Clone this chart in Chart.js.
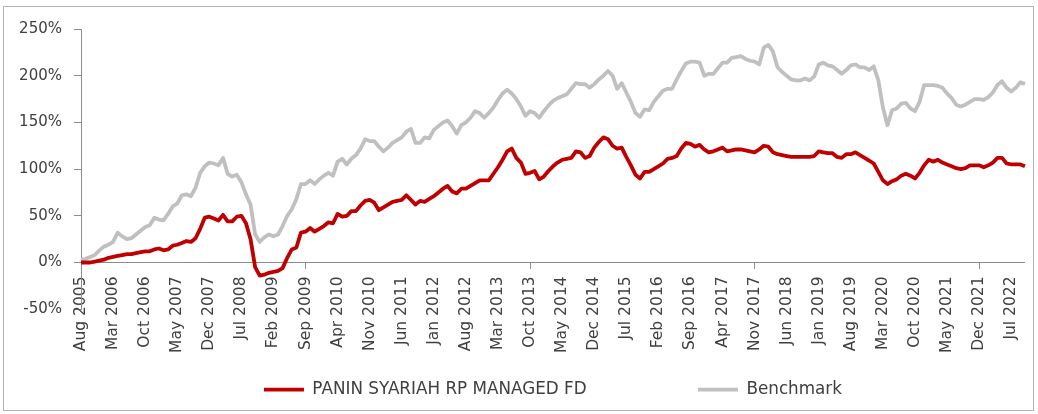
<!DOCTYPE html>
<html>
<head>
<meta charset="utf-8">
<script src="https://cdn.jsdelivr.net/npm/chart.js@4.4.0/dist/chart.umd.min.js"></script>
<style>
  html, body { margin: 0; padding: 0; background: #fff; }
  #wrap { position: relative; width: 1038px; height: 414px; }
  #frame { position: absolute; left: 3px; top: 6px; width: 1029px; height: 403px; border: 1px solid #B4B4B4; }
  canvas { position: absolute; left: 0; top: 0; }
</style>
</head>
<body>
<div id="wrap">
  <div id="frame"></div>
  <canvas id="myChart" width="1038" height="414"></canvas>
</div>
<script>
const ctx = document.getElementById('myChart');

// monthly points, Aug 2005 -> Oct 2022
const monthNames = ['Jan', 'Feb', 'Mar', 'Apr', 'May', 'Jun', 'Jul', 'Aug', 'Sep', 'Oct', 'Nov', 'Dec'];
const firstYear = 2005;
const firstMonth = 7; // Aug
const nbMonths = 207;

const months = [];
for (let i = 0; i < nbMonths; i++) {
  const m = firstMonth + i;
  months.push(monthNames[m % 12] + ' ' + (firstYear + Math.floor(m / 12)));
}

// a label every 7 months on the axis
const tickStep = 7;

// cumulative return (%)
const fundReturn = [
  0, 0, 0, 1, 2, 3, 5, 6, 7, 8,
  9, 9, 10, 11, 12, 12, 14, 15, 13, 14,
  18, 19, 21, 23, 22, 26, 36, 48, 49, 47,
  45, 51, 44, 44, 49, 50, 42, 25, -5, -14,
  -13, -11, -10, -9, -6, 5, 14, 16, 32, 33,
  37, 33, 36, 39, 43, 42, 52, 49, 50, 55,
  55, 61, 66, 67, 64, 56, 59, 62, 65, 66,
  67, 72, 67, 62, 66, 65, 68, 71, 75, 79,
  82, 76, 74, 79, 79, 82, 85, 88, 88, 88,
  95, 102, 110, 119, 122, 112, 107, 95, 96, 98,
  89, 92, 98, 103, 107, 110, 111, 112, 119, 118,
  112, 114, 123, 129, 134, 132, 125, 122, 123, 113,
  104, 94, 90, 97, 97, 100, 103, 106, 111, 112,
  114, 122, 128, 127, 124, 126, 121, 118, 119, 121,
  123, 119, 120, 121, 121, 120, 119, 118, 121, 125,
  124, 118, 116, 115, 114, 113, 113, 113, 113, 113,
  114, 119, 118, 117, 117, 113, 112, 116, 116, 118,
  115, 112, 109, 106, 97, 88, 84, 87, 89, 93,
  95, 93, 90, 96, 104, 110, 108, 110, 107, 105,
  103, 101, 100, 101, 104, 104, 104, 102, 104, 107,
  112, 112, 106, 105, 105, 105, 103
];

const benchmarkReturn = [
  3, 4, 6, 8, 13, 17, 19, 22, 32, 28,
  25, 26, 30, 34, 38, 40, 48, 46, 45, 52,
  60, 63, 72, 73, 71, 80, 96, 103, 107, 106,
  104, 112, 95, 92, 94, 86, 73, 62, 30, 22,
  27, 30, 28, 30, 39, 50, 57, 68, 84, 84,
  88, 84, 89, 93, 96, 93, 108, 111, 105, 111,
  115, 122, 132, 130, 130, 124, 119, 123, 128, 131,
  134, 140, 143, 128, 128, 134, 133, 142, 146, 150,
  152, 146, 138, 147, 150, 155, 162, 160, 155, 160,
  166, 174, 181, 185, 181, 175, 167, 157, 162, 160,
  155, 162, 168, 173, 176, 178, 180, 186, 192, 191,
  191, 187, 191, 196, 200, 205, 200, 186, 192, 182,
  172, 160, 156, 164, 163, 172, 178, 184, 186, 186,
  196, 205, 213, 215, 215, 214, 200, 202, 202, 208,
  214, 214, 219, 220, 221, 218, 216, 215, 212, 230,
  233, 226, 209, 204, 200, 196, 195, 195, 197, 195,
  199, 212, 214, 211, 210, 206, 202, 206, 211, 212,
  209, 209, 206, 210, 195, 166, 147, 163, 165, 170,
  171, 165, 162, 172, 190, 190, 190, 189, 187, 181,
  176, 169, 167, 169, 172, 175, 175, 174, 177, 182,
  190, 194, 187, 183, 187, 193, 191
];

const yTicks = [-50, 0, 50, 100, 150, 200, 250];

const axisGrey = '#8C8C8C';
const textGrey = '#404040';

Chart.defaults.font.family = 'DejaVu Sans';

new Chart(ctx, {
  type: 'line',
  data: {
    labels: months,
    datasets: [{
      label: 'PANIN SYARIAH RP MANAGED FD',
      data: fundReturn,
      borderColor: '#C00000',
      backgroundColor: '#C00000',
      borderWidth: 3.8,
      pointRadius: 0,
      tension: 0,
      borderJoinStyle: 'round'
    }, {
      label: 'Benchmark',
      data: benchmarkReturn,
      borderColor: '#C0C0C0',
      backgroundColor: '#C0C0C0',
      borderWidth: 3.8,
      pointRadius: 0,
      tension: 0,
      borderJoinStyle: 'round'
    }]
  },
  options: {
    responsive: false,
    animation: false,
    layout: {
      padding: { left: 0, top: 29, right: 11, bottom: 6 }
    },
    scales: {
      x: {
        type: 'category',
        position: { y: 0 },
        offset: false,
        border: { color: axisGrey, width: 1 },
        grid: {
          drawOnChartArea: false,
          tickLength: 6,
          color: c => (c.index % tickStep === 0 ? axisGrey : 'rgba(0,0,0,0)')
        },
        ticks: {
          autoSkip: false,
          minRotation: 90,
          maxRotation: 90,
          padding: 8,
          color: textGrey,
          font: { size: 15.5 },
          callback: function (value, index) {
            return index % tickStep === 0 ? this.getLabelForValue(value) : null;
          }
        }
      },
      // empty axis, only keeps room for the hanging date labels
      spacer: {
        type: 'category',
        position: 'bottom',
        grid: { display: false },
        border: { display: false },
        ticks: { display: false },
        afterFit: s => { s.height = 62; }
      },
      y: {
        min: -50,
        max: 250,
        border: { color: axisGrey, width: 1 },
        grid: { drawOnChartArea: false, tickLength: 7, color: axisGrey },
        afterBuildTicks: s => { s.ticks = yTicks.map(v => ({ value: v })); },
        ticks: {
          padding: 12,
          color: textGrey,
          font: { size: 15 },
          callback: v => v + '%'
        },
        afterFit: s => { s.width = 81; }
      }
    },
    plugins: {
      tooltip: { enabled: false },
      legend: {
        position: 'bottom',
        fullSize: false,
        labels: {
          usePointStyle: true,
          pointStyle: 'line',
          pointStyleWidth: 40,
          boxWidth: 40,
          padding: 10,
          color: textGrey,
          font: { size: 16.8 },
          generateLabels: chart => {
            const items = Chart.defaults.plugins.legend.labels.generateLabels(chart);
            // wide gap between the two entries, as in the original
            items[0].text = items[0].text + ' '.repeat(19);
            return items;
          }
        }
      }
    }
  }
});
</script>
</body>
</html>
